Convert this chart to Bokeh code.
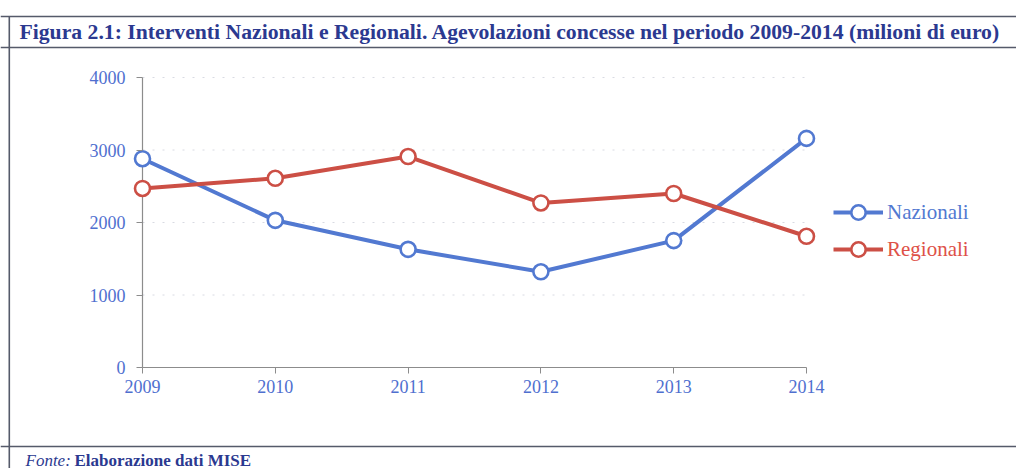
from bokeh.plotting import figure
from bokeh.models import Range1d, FixedTicker, Legend, LegendItem
from bokeh.core.properties import value
from bokeh.embed import file_html
from bokeh.resources import INLINE

# ---------------- data ----------------
years = [2009, 2010, 2011, 2012, 2013, 2014]
nazionali = [2880, 2030, 1630, 1320, 1750, 3160]
regionali = [2470, 2610, 2910, 2270, 2400, 1810]
y_ticks = [0, 1000, 2000, 3000, 4000]
series_names = ["Nazionali", "Regionali"]
title_text = ("Figura 2.1: Interventi Nazionali e Regionali. Agevolazioni concesse "
              "nel periodo 2009-2014 (milioni di euro)")
source_label = "Fonte:"
source_text = "Elaborazione dati MISE"

# ---------------- layout (canvas pixels) ----------------
W, H = 1016, 468
X0_PX, X1_PX = 142, 806   # first / last year
Y0_PX, Y1_PX = 367, 77    # bottom / top of value axis (from top)

xs = (X1_PX - X0_PX) / (years[-1] - years[0])
x_start = years[0] - X0_PX / xs
x_end = x_start + W / xs
ys = (Y0_PX - Y1_PX) / (y_ticks[-1] - y_ticks[0])
y_end = y_ticks[-1] + Y1_PX / ys
y_start = y_end - H / ys

BLUE = "#5279d1"
RED = "#cc4f45"
TICK_BLUE = "#4f6fcf"
NAVY = "#2b3990"
SERIF = "Liberation Serif"

p = figure(width=W, height=H, x_range=Range1d(x_start, x_end),
           y_range=Range1d(y_start, y_end), output_backend="svg",
           toolbar_location=None, min_border=0)
p.outline_line_color = None
p.grid.visible = False
p.background_fill_color = "white"
p.border_fill_color = "white"
p.extra_x_ranges = {"px": Range1d(0, W)}
p.extra_y_ranges = {"py": Range1d(H, 0)}

# axes
for ax, ticks, loc in ((p.xaxis[0], years, y_ticks[0]), (p.yaxis[0], y_ticks, years[0])):
    ax.fixed_location = loc
    ax.ticker = FixedTicker(ticks=ticks)
    ax.axis_line_color = None
    ax.major_tick_in = 0
    ax.major_tick_out = 6
    ax.minor_tick_line_color = None
    ax.major_tick_line_color = "#8c8c8c"
    ax.major_label_text_font = SERIF
    ax.major_label_text_font_size = "18px"
    ax.major_label_text_color = TICK_BLUE
p.xaxis.major_label_standoff = 6
p.yaxis.major_label_standoff = 11

# gridlines (faint dotted)
grid_vals = y_ticks[1:]
p.segment(x0=[years[0]] * len(grid_vals), y0=grid_vals,
          x1=[years[-1]] * len(grid_vals), y1=grid_vals,
          line_color="#d8dae2", line_width=1, line_dash="2 8")
# axis lines
p.segment(x0=[years[0], years[0]], y0=[y_ticks[0], y_ticks[0]],
          x1=[years[0], years[-1]], y1=[y_ticks[-1], y_ticks[0]],
          line_color="#8c8c8c", line_width=1.2)

# series
l1 = p.line(years, nazionali, line_color=BLUE, line_width=4)
s1 = p.scatter(years, nazionali, size=15, fill_color="white", line_color=BLUE, line_width=2.6)
l2 = p.line(years, regionali, line_color=RED, line_width=4)
s2 = p.scatter(years, regionali, size=15, fill_color="white", line_color=RED, line_width=2.6)

def make_legend(label, rends, color, loc):
    lg = Legend(items=[LegendItem(label=label, renderers=rends)], location=loc,
                padding=0, margin=0, spacing=0, border_line_color=None,
                background_fill_alpha=0, glyph_width=50, glyph_height=36,
                label_standoff=4, label_text_font=SERIF,
                label_text_font_size="21px", label_text_color=color,
                label_height=36)
    p.add_layout(lg)

make_legend(series_names[0], [l1, s1], BLUE, (833, 238))
make_legend(series_names[1], [l2, s2], "#de5148", (833, 201))

# frame lines of the figure box
p.segment(x0=[0, 0, 0, 8.8], y0=[16, 47, 446, 16], x1=[W, W, W, 8.8], y1=[16, 47, 446, H],
          line_color="#555a6a", line_width=1.6, x_range_name="px", y_range_name="py")

# title and source
p.text(x=[19], y=[31], text=[title_text], text_font=value(SERIF), text_font_style="bold",
       text_font_size="21.7px", text_color=NAVY, text_baseline="middle",
       x_range_name="px", y_range_name="py")
p.text(x=[25], y=[460], text=[source_label], text_font=value(SERIF),
       text_font_style="italic", text_font_size="17px", text_color=NAVY,
       text_baseline="alphabetic", x_range_name="px", y_range_name="py")
p.text(x=[74], y=[460], text=[source_text], text_font=value(SERIF),
       text_font_style="bold", text_font_size="17px", text_color=NAVY,
       text_baseline="alphabetic", x_range_name="px", y_range_name="py")

open("out.html", "w").write(file_html(p, INLINE))
